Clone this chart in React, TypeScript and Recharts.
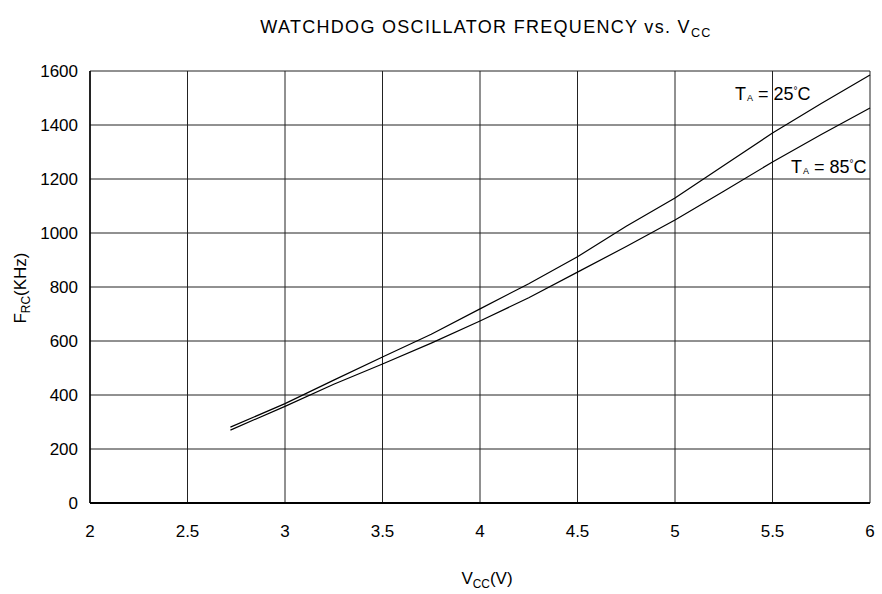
import { LineChart, Line, XAxis, YAxis, CartesianGrid } from 'recharts'

const vcc = [2.72, 3, 3.25, 3.5, 3.75, 4, 4.25, 4.5, 4.75, 5, 5.25, 5.5, 5.75, 6]
const freq25 = [281, 368, 455, 541, 625, 719, 812, 912, 1025, 1130, 1250, 1370, 1480, 1585]
const freq85 = [270, 358, 440, 515, 592, 674, 760, 855, 950, 1048, 1155, 1263, 1365, 1463]

const xTicks = [2, 2.5, 3, 3.5, 4, 4.5, 5, 5.5, 6]
const yTicks = [0, 200, 400, 600, 800, 1000, 1200, 1400, 1600]

const font = '"Liberation Sans", Arial, Helvetica, sans-serif'

const data = vcc.map((v, i) => ({ vcc: v, t25: freq25[i], t85: freq85[i] }))

const sub = { fontSize: '0.7em', verticalAlign: '-0.3em' } as const
const subA = { fontSize: 9, verticalAlign: '-0.1em', marginLeft: 1 } as const
const deg = { fontSize: 10, verticalAlign: '0.6em' } as const

export default function App() {
  return (
    <div style={{ position: 'absolute', left: 0, top: 0, width: 882, height: 594, background: '#fff', fontFamily: font, color: '#000' }}>
      <LineChart width={882} height={594} data={data} margin={{ top: 71, right: 12, bottom: 61, left: 0 }}>
        <CartesianGrid stroke="#222" strokeWidth={1} />
        <XAxis
          dataKey="vcc"
          type="number"
          domain={[2, 6]}
          ticks={xTicks}
          tickLine={false}
          tickMargin={16}
          axisLine={{ stroke: '#000', strokeWidth: 2 }}
          tick={{ fontSize: 17, fill: '#000', fontFamily: font }}
        />
        <YAxis
          domain={[0, 1600]}
          ticks={yTicks}
          width={90}
          tickLine={false}
          tickMargin={6}
          axisLine={{ stroke: '#000', strokeWidth: 1.5 }}
          tick={{ fontSize: 17, fill: '#000', fontFamily: font }}
        />
        <Line type="linear" dataKey="t25" stroke="#000" strokeWidth={1.2} dot={false} isAnimationActive={false} />
        <Line type="linear" dataKey="t85" stroke="#000" strokeWidth={1.2} dot={false} isAnimationActive={false} />
      </LineChart>

      <div style={{ position: 'absolute', left: 0, width: 972, top: 17, textAlign: 'center', fontSize: 18, letterSpacing: 1.3, whiteSpace: 'nowrap' }}>
        WATCHDOG OSCILLATOR FREQUENCY vs. V<span style={sub}>CC</span>
      </div>
      <div style={{ position: 'absolute', left: 0, width: 974, top: 569, textAlign: 'center', fontSize: 17 }}>
        V<span style={sub}>CC</span>(V)
      </div>
      <div
        style={{
          position: 'absolute', left: 22, top: 288, fontSize: 17, whiteSpace: 'nowrap',
          transform: 'translate(-50%, -50%) rotate(-90deg)',
        }}
      >
        F<span style={sub}>RC</span>(KHz)
      </div>
      <div style={{ position: 'absolute', left: 735, top: 84, fontSize: 18, whiteSpace: 'nowrap' }}>
        T<span style={subA}>A</span> = 25<span style={deg}>°</span>C
      </div>
      <div style={{ position: 'absolute', left: 791, top: 157, fontSize: 18, whiteSpace: 'nowrap' }}>
        T<span style={subA}>A</span> = 85<span style={deg}>°</span>C
      </div>
    </div>
  )
}
